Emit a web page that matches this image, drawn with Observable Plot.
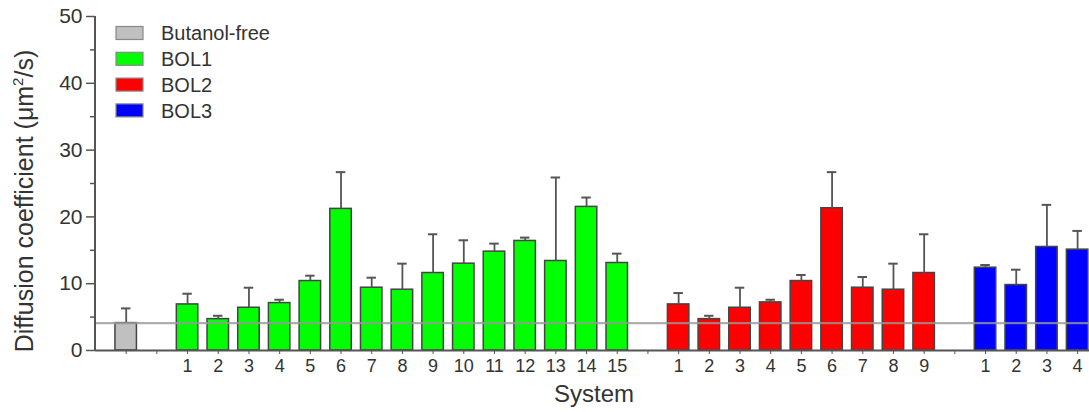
<!DOCTYPE html>
<html><head><meta charset="utf-8">
<script src="https://cdn.jsdelivr.net/npm/d3@7"></script>
<script src="https://cdn.jsdelivr.net/npm/@observablehq/plot@0.6"></script>
<style>
html,body{margin:0;padding:0;background:#fff;overflow:hidden}
#chart svg{overflow:visible}
</style></head><body><div id="chart"></div>
<script>
// ---- data ----
const seriesNames = ["Butanol-free", "BOL1", "BOL2", "BOL3"];
const seriesColors = ["#c0c0c0", "#00ff00", "#ff0000", "#0000ff"];

const freeValues = [4.1];
const freeErrors = [2.2];

const bol1Labels = ["1","2","3","4","5","6","7","8","9","10","11","12","13","14","15"];
const bol1Values = [6.9, 4.7, 6.4, 7.1, 10.4, 21.2, 9.4, 9.1, 11.6, 13.0, 14.8, 16.4, 13.4, 21.5, 13.1];
const bol1Errors = [1.6, 0.5, 3.0, 0.5, 0.8, 5.5, 1.5, 3.9, 5.8, 3.5, 1.2, 0.5, 12.5, 1.4, 1.4];

const bol2Labels = ["1","2","3","4","5","6","7","8","9"];
const bol2Values = [6.9, 4.7, 6.4, 7.2, 10.4, 21.3, 9.4, 9.1, 11.6];
const bol2Errors = [1.7, 0.5, 3.0, 0.4, 0.9, 5.4, 1.6, 3.9, 5.8];

const bol3Labels = ["1","2","3","4"];
const bol3Values = [12.4, 9.8, 15.5, 15.1];
const bol3Errors = [0.4, 2.3, 6.3, 2.8];

const referenceLine = [4.1];
const yMajorTicks = [0, 10, 20, 30, 40, 50];
const yMinorTicks = [5, 15, 25, 35, 45];

// ---- build slot table ----
const slots = [];
const bars = [];
function addGroup(series, labels, values, errors) {
  labels.forEach((lab, i) => {
    const key = series + "-" + i;
    slots.push({key, label: lab});
    bars.push({key, series, value: values[i], upper: values[i] + errors[i]});
  });
}
addGroup("Butanol-free", [""], freeValues, freeErrors);
slots.push({key: "gap1", label: ""});
addGroup("BOL1", bol1Labels, bol1Values, bol1Errors);
slots.push({key: "gap2", label: ""});
addGroup("BOL2", bol2Labels, bol2Values, bol2Errors);
slots.push({key: "gap3", label: ""});
addGroup("BOL3", bol3Labels, bol3Values, bol3Errors);
const labelOf = new Map(slots.map(s => [s.key, s.label]));

const axisColor = "#555";
const textColor = "#333";
const font = "'Liberation Sans', Arial, Helvetica, sans-serif";

const plot = Plot.plot({
  width: 1089, height: 412,
  marginLeft: 95, marginRight: -18.8, marginTop: 16, marginBottom: 62,
  style: {fontFamily: font, color: textColor, background: "transparent", overflow: "visible"},
  x: {type: "band", domain: slots.map(s => s.key), paddingInner: 0.3, paddingOuter: 0.65, round: false, axis: null},
  y: {domain: [0, 50], axis: null},
  color: {domain: seriesNames, range: seriesColors},
  marks: [
    Plot.barY(bars, {x: "key", y: "value", fill: "series", stroke: "#444", strokeWidth: 1.5}),
    Plot.ruleX(bars, {x: "key", y1: "value", y2: "upper", stroke: axisColor, strokeWidth: 1.8}),
    Plot.tickY(bars, {x: "key", y: "upper", stroke: axisColor, strokeWidth: 2, insetLeft: 6, insetRight: 6}),
    Plot.ruleY(referenceLine, {stroke: "#999", strokeWidth: 2.2, strokeOpacity: 0.8}),
    Plot.ruleY([0], {stroke: axisColor, strokeWidth: 2}),
    Plot.axisX({tickSize: 4, tickPadding: 5, fontSize: 18, tickFormat: k => labelOf.get(k), label: null, stroke: axisColor, fill: textColor}),
    Plot.axisY({ticks: yMajorTicks, tickSize: 9, tickPadding: 4, fontSize: 21, label: null, stroke: axisColor, fill: textColor, strokeWidth: 1.5}),
    Plot.axisY({ticks: yMinorTicks, tickSize: 5, tickFormat: () => "", label: null, stroke: axisColor, strokeWidth: 1.5})
  ]
});

const svg = d3.select(plot);
const ys = plot.scale("y");
// y axis line
svg.append("line")
  .attr("x1", 95).attr("x2", 95)
  .attr("y1", ys.apply(50)).attr("y2", ys.apply(0) + 1)
  .attr("stroke", axisColor).attr("stroke-width", 2);

// y axis title
const yt = svg.append("text")
  .attr("transform", "translate(33,201) rotate(-90)")
  .attr("text-anchor", "middle")
  .attr("font-family", font).attr("font-size", 25).attr("fill", textColor);
yt.append("tspan").text("Diffusion coefficient (\u03bcm");
yt.append("tspan").attr("font-size", 15).attr("dy", -10).text("2");
yt.append("tspan").attr("dy", 10).text("/s)");

// x axis title
svg.append("text")
  .attr("x", 594).attr("y", 402)
  .attr("text-anchor", "middle")
  .attr("font-family", font).attr("font-size", 24).attr("fill", textColor)
  .text("System");

// legend
const lg = svg.append("g").attr("font-family", font).attr("font-size", 20).attr("fill", textColor)
  .attr("text-anchor", "start");
seriesNames.forEach((name, i) => {
  const cy = 33 + i * 25.8;
  lg.append("rect").attr("x", 116).attr("y", cy - 6.5).attr("width", 27).attr("height", 13)
    .attr("fill", seriesColors[i]).attr("stroke", "#888").attr("stroke-width", 1.2);
  lg.append("text").attr("x", 161).attr("y", cy).attr("dy", "0.36em").attr("text-anchor", "start").text(name);
});

document.getElementById("chart").append(plot);
</script>
</body></html>
